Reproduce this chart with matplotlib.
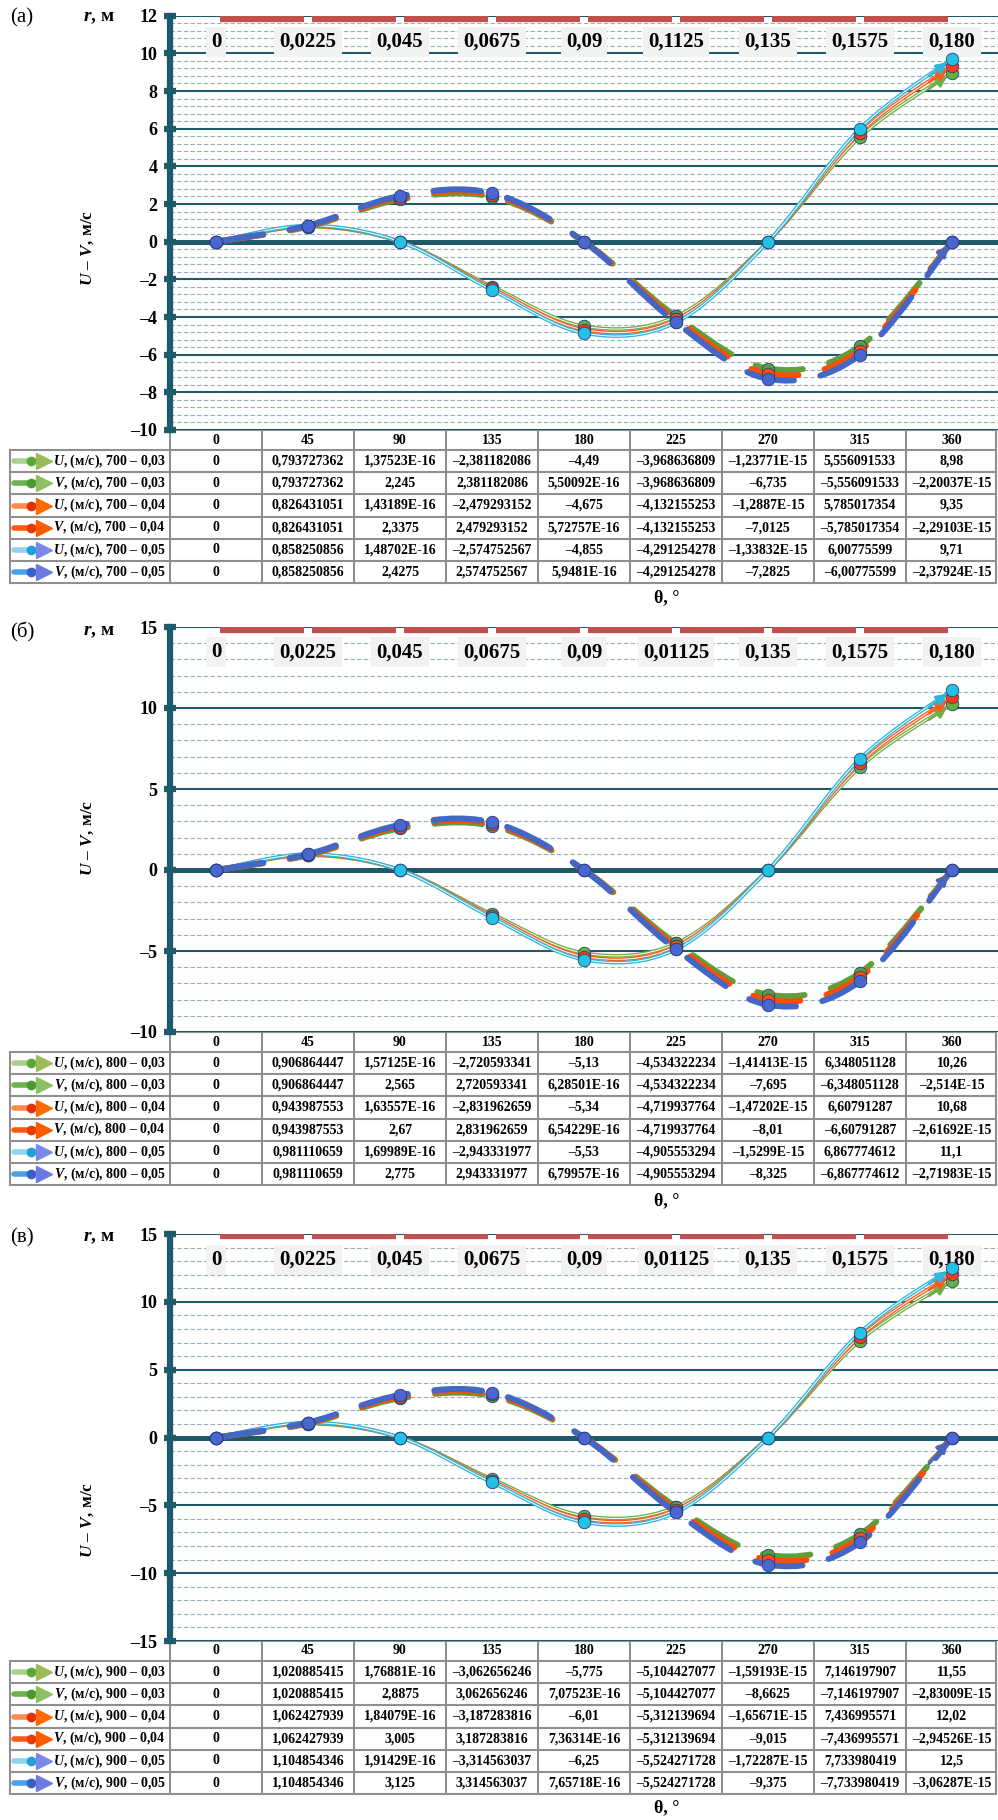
import numpy as np
import matplotlib.pyplot as plt
from matplotlib.path import Path
from matplotlib.patches import PathPatch
from matplotlib.ticker import MultipleLocator, FuncFormatter

plt.rcParams['font.family'] = ['Liberation Serif', 'DejaVu Serif']
plt.rcParams['font.weight'] = 'bold'
plt.rcParams['mathtext.fontset'] = 'custom'
plt.rcParams['mathtext.it'] = 'Liberation Serif:italic:bold'
plt.rcParams['mathtext.rm'] = 'Liberation Serif:bold'
plt.rcParams['mathtext.bf'] = 'Liberation Serif:bold'

# углы (категории) и подписи радиуса
theta = ['0', '45', '90', '135', '180', '225', '270', '315', '360']
r_labels_a = ['0', '0,0225', '0,045', '0,0675', '0,09', '0,1125', '0,135', '0,1575', '0,180']
r_labels_bc = ['0', '0,0225', '0,045', '0,0675', '0,09', '0,01125', '0,135', '0,1575', '0,180']
cases = ['0,03', '0,04', '0,05']

# (а) 700
a_U003 = ['0', '0,793727362', '1,37523E-16', '–2,381182086', '–4,49', '–3,968636809', '–1,23771E-15', '5,556091533', '8,98']
a_V003 = ['0', '0,793727362', '2,245', '2,381182086', '5,50092E-16', '–3,968636809', '–6,735', '–5,556091533', '–2,20037E-15']
a_U004 = ['0', '0,826431051', '1,43189E-16', '–2,479293152', '–4,675', '–4,132155253', '–1,2887E-15', '5,785017354', '9,35']
a_V004 = ['0', '0,826431051', '2,3375', '2,479293152', '5,72757E-16', '–4,132155253', '–7,0125', '–5,785017354', '–2,29103E-15']
a_U005 = ['0', '0,858250856', '1,48702E-16', '–2,574752567', '–4,855', '–4,291254278', '–1,33832E-15', '6,00775599', '9,71']
a_V005 = ['0', '0,858250856', '2,4275', '2,574752567', '5,9481E-16', '–4,291254278', '–7,2825', '–6,00775599', '–2,37924E-15']

# (б) 800
b_U003 = ['0', '0,906864447', '1,57125E-16', '–2,720593341', '–5,13', '–4,534322234', '–1,41413E-15', '6,348051128', '10,26']
b_V003 = ['0', '0,906864447', '2,565', '2,720593341', '6,28501E-16', '–4,534322234', '–7,695', '–6,348051128', '–2,514E-15']
b_U004 = ['0', '0,943987553', '1,63557E-16', '–2,831962659', '–5,34', '–4,719937764', '–1,47202E-15', '6,60791287', '10,68']
b_V004 = ['0', '0,943987553', '2,67', '2,831962659', '6,54229E-16', '–4,719937764', '–8,01', '–6,60791287', '–2,61692E-15']
b_U005 = ['0', '0,981110659', '1,69989E-16', '–2,943331977', '–5,53', '–4,905553294', '–1,5299E-15', '6,867774612', '11,1']
b_V005 = ['0', '0,981110659', '2,775', '2,943331977', '6,79957E-16', '–4,905553294', '–8,325', '–6,867774612', '–2,71983E-15']

# (в) 900
c_U003 = ['0', '1,020885415', '1,76881E-16', '–3,062656246', '–5,775', '–5,104427077', '–1,59193E-15', '7,146197907', '11,55']
c_V003 = ['0', '1,020885415', '2,8875', '3,062656246', '7,07523E-16', '–5,104427077', '–8,6625', '–7,146197907', '–2,83009E-15']
c_U004 = ['0', '1,062427939', '1,84079E-16', '–3,187283816', '–6,01', '–5,312139694', '–1,65671E-15', '7,436995571', '12,02']
c_V004 = ['0', '1,062427939', '3,005', '3,187283816', '7,36314E-16', '–5,312139694', '–9,015', '–7,436995571', '–2,94526E-15']
c_U005 = ['0', '1,104854346', '1,91429E-16', '–3,314563037', '–6,25', '–5,524271728', '–1,72287E-15', '7,733980419', '12,5']
c_V005 = ['0', '1,104854346', '3,125', '3,314563037', '7,65718E-16', '–5,524271728', '–9,375', '–7,733980419', '–3,06287E-15']

teal = '#1f5a6b'
u_colors = ['#70ad47', '#ff5b1a', '#2eb6dc']
v_colors = ['#5e9e3e', '#ff4e00', '#4466c4']
u_mark = ['#66b040', '#ff3a10', '#22c2e4']
v_mark = ['#5aa040', '#ff4a10', '#4a66d0']
icon_line = ['#a9d08e', '#6bb34a', '#ff8a4a', '#ff5a14', '#8fd3f0', '#4aa3e8']
icon_ball = ['#5aa83a', '#4a9a30', '#e03010', '#e83a00', '#20a0d8', '#3a60c8']
icon_head = ['#9bbb59', '#8cc063', '#ff6a00', '#ff5a00', '#7a88e8', '#6a7ae0']

W, H = 998, 1820
fig = plt.figure(figsize=(W / 100, H / 100), dpi=100)
ov = fig.add_axes([0, 0, 1, 1])
ov.set_xlim(0, W)
ov.set_ylim(H, 0)
ov.axis('off')


def num(s):
    return float(s.replace(',', '.').replace('–', '-'))


def smooth_path(xs, ys):
    pts = np.column_stack([xs, ys])
    n = len(pts)
    verts = [pts[0]]
    codes = [Path.MOVETO]
    for i in range(n - 1):
        p0 = pts[max(i - 1, 0)]
        p1 = pts[i]
        p2 = pts[i + 1]
        p3 = pts[min(i + 2, n - 1)]
        verts += [p1 + (p2 - p0) / 6, p2 - (p3 - p1) / 6, p2]
        codes += [Path.CURVE4] * 3
    return Path(verts, codes)


def draw_panel(top, bottom, letter, vel, rows, r_labels, ylim, major, minor,
               r_y, bar_y, letter_y, ylab_y, theta_y):
    ax = fig.add_axes([170 / W, 1 - bottom / H, (W - 170) / W, (bottom - top) / H])
    x = np.arange(len(theta))
    us = [[num(s) for s in rows[2 * k]] for k in range(3)]
    vs = [[num(s) for s in rows[2 * k + 1]] for k in range(3)]

    # линии U (сплошные, сглаженные)
    for k in range(3):
        ax.add_patch(PathPatch(smooth_path(x, us[k]), fill=False, lw=2.6,
                               ec=u_colors[k], zorder=3))
        ax.add_patch(PathPatch(smooth_path(x, us[k]), fill=False, lw=0.7,
                               ec='white', zorder=3))
    # линии V (штриховые)
    for k in range(3):
        ax.add_patch(PathPatch(smooth_path(x, vs[k]), fill=False, lw=4.3,
                               ec=v_colors[k], ls=(0, (8, 4.5)), capstyle='round',
                               zorder=4))
    for k in range(3):
        for ys, col, lc in ((us[k], u_mark[k], u_colors[k]), (vs[k], v_mark[k], v_colors[k])):
            ax.annotate('', xy=(x[-1], ys[-1]),
                        xytext=(x[-1] - 0.25, ys[-1] - 0.25 * (ys[-1] - ys[-2])),
                        arrowprops=dict(arrowstyle='-|>', color=lc, lw=2,
                                        mutation_scale=16, shrinkA=0, shrinkB=4),
                        zorder=5)
            ax.plot(x, ys, 'o', ms=9, mfc=col, mec='#2a3f7a', mew=0.6, zorder=6)

    # красные отрезки и подписи r
    for i in range(len(x) - 1):
        ax.plot([x[i] + 0.04, x[i + 1] - 0.04], [bar_y, bar_y], color='#c0504d',
                lw=4.5, solid_capstyle='butt', zorder=3)
    for i, lab in enumerate(r_labels):
        ax.text(x[i], r_y, lab, ha='center', va='center', fontsize=15, zorder=4,
                bbox=dict(boxstyle='square,pad=0.25', fc='#f2f2f2', ec='none'))

    ax.set_xlim(-0.5, len(x) - 0.5)
    ax.set_ylim(*ylim)
    ax.set_xticks([])
    ax.yaxis.set_major_locator(MultipleLocator(major))
    ax.yaxis.set_minor_locator(MultipleLocator(minor))
    ax.yaxis.set_major_formatter(FuncFormatter(lambda v, p: f'{v:g}'.replace('-', '–')))
    ax.grid(which='major', axis='y', color=teal, lw=1.5)
    ax.grid(which='minor', axis='y', color='#98afba', lw=0.8, ls=(0, (4, 2)))
    ax.axhline(0, color=teal, lw=3.6, zorder=2)
    ax.set_axisbelow(True)
    for sp in ('top', 'right', 'bottom'):
        ax.spines[sp].set_visible(False)
    ax.spines['left'].set_color(teal)
    ax.spines['left'].set_linewidth(4.5)
    ax.tick_params(axis='y', which='major', length=8, width=4.5, direction='inout',
                   color=teal, labelsize=13, pad=5)
    ax.tick_params(axis='y', which='minor', length=5, width=3, direction='inout', color=teal)

    # подписи панели
    ov.text(10, letter_y, letter, fontsize=15, fontweight='normal', va='center', ha='left')
    ov.text(83, letter_y, '$r$, м', fontsize=14, va='center', ha='left')
    ov.text(88, ylab_y, '$U$ – $V$, м/с', fontsize=12.5, rotation=90, va='center', ha='center')
    ov.text(667, theta_y, 'θ, °', fontsize=13, va='center', ha='center')

    # таблица данных
    hh, rh = 20, 22.2
    y0 = bottom
    y1 = y0 + hh
    yend = y1 + rh * 6
    gc = '#8f8f8f'
    cols = [170 + 92 * i for i in range(len(theta) + 1)]
    cols[-1] = W - 1.5
    ov.plot([170, cols[-1]], [y0, y0], color=gc, lw=1.5)
    for j in range(7):
        yy = y1 + rh * j
        ov.plot([10, cols[-1]], [yy, yy], color=gc, lw=1.5)
    ov.plot([10, 10], [y1, yend], color=gc, lw=1.5)
    for cx in cols:
        ov.plot([cx, cx], [y0, yend], color=gc, lw=1.5)
    for i, t in enumerate(theta):
        ov.text(cols[i] + 46, (y0 + y1) / 2, t, fontsize=10, ha='center', va='center')
    names = ['U', 'V']
    for j, vals in enumerate(rows):
        yc = y1 + rh * (j + 0.5)
        lab = f'${names[j % 2]}$, (м/с), {vel} – {cases[j // 2]}'
        ov.text(166, yc, lab, fontsize=10, ha='right', va='center')
        ov.plot([14, 40], [yc, yc], color=icon_line[j], lw=4, solid_capstyle='round')
        ov.plot([31], [yc], 'o', ms=6, color=icon_ball[j])
        ov.plot([44], [yc], '>', ms=11, color=icon_head[j])
        for i, s in enumerate(vals):
            ov.text(cols[i] + 46, yc, s, fontsize=10, ha='center', va='center')


draw_panel(15.7, 430, '(а)', '700', [a_U003, a_V003, a_U004, a_V004, a_U005, a_V005],
           r_labels_a, (-10, 12), 2, 0.4, 10.6, 11.82, 18, 248, 598)
draw_panel(627, 1032, '(б)', '800', [b_U003, b_V003, b_U004, b_V004, b_U005, b_V005],
           r_labels_bc, (-10, 15), 5, 1, 13.45, 14.8, 632, 838, 1201)
draw_panel(1234, 1641, '(в)', '900', [c_U003, c_V003, c_U004, c_V004, c_U005, c_V005],
           r_labels_bc, (-15, 15), 5, 1, 13.1, 14.85, 1238, 1520, 1808)

fig.savefig('out.png', dpi=100)
